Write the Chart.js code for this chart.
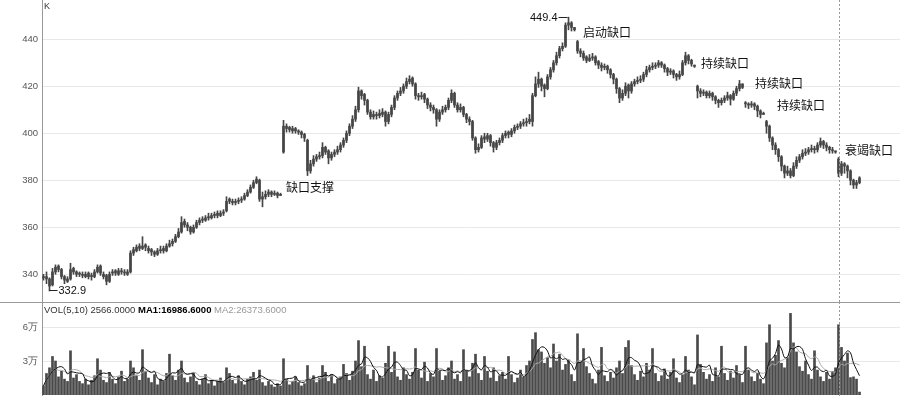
<!DOCTYPE html>
<html>
<head>
<meta charset="utf-8">
<script src="https://cdn.jsdelivr.net/npm/chart.js@4/dist/chart.umd.min.js"></script>
<style>
  body { margin: 0; background: #fff; }
  #wrap { position: relative; width: 900px; height: 397px; overflow: hidden; }
  #priceChart { position: absolute; left: 0; top: 0; }
  #volChart { position: absolute; left: 0; top: 302px; }
  .tag { position: absolute; font-family: "Liberation Sans", Arial, sans-serif; white-space: nowrap; }
</style>
</head>
<body>
<div id="wrap">
  <canvas id="priceChart" width="900" height="302"></canvas>
  <canvas id="volChart" width="900" height="95"></canvas>
  <div class="tag" style="left:44px;top:1px;font-size:9px;color:#333">K</div>
  <div class="tag" style="left:44px;top:304px;font-size:9.5px;color:#333">VOL(5,10) 2566.0000 <b style="color:#000">MA1:16986.6000</b> <span style="color:#999">MA2:26373.6000</span></div>
</div>
<script>
// daily bars (index 0 = first bar on the left)
const opens = [
  338.5, 339, 338, 335.5, 341, 343.5, 342, 339, 337, 338,
  342.5, 341, 340.5, 340, 339, 340.5, 339.5, 339, 341, 343.5,
  340, 339.5, 337, 340.5, 341.5, 340, 341.5, 341, 340, 341,
  349, 350, 352, 351, 352.5, 351, 350.5, 349.5, 348.5, 350,
  351, 350, 352, 353, 354, 356, 358, 362.5, 361, 360,
  358, 360, 362, 363, 363, 364, 364, 365, 366, 365,
  366, 367, 372, 371, 370.5, 371, 371.5, 372, 373.5, 375,
  377, 379, 380, 372, 373, 374, 375, 374, 374.5, 373.5,
  392, 403, 402.5, 401, 402, 401, 400.5, 399.5, 397, 384,
  387, 389, 390, 390.5, 394, 392.5, 389.5, 391, 392, 393,
  395, 397, 400, 403, 406, 410, 418, 416.5, 414, 409,
  407, 408, 407.5, 408, 409, 405, 408, 411, 415, 417,
  418, 420, 422, 423.5, 421, 416, 415.5, 416.5, 414.5, 412,
  411, 410, 406, 409, 410, 411, 414, 417, 412, 410,
  411, 408, 406, 405, 398, 393, 394, 398.5, 397.5, 399,
  396, 394, 396, 397, 399, 400.5, 399.5, 401, 402.5, 403,
  404, 404.5, 405, 405, 416, 421, 423, 420.5, 419, 424,
  427, 430, 433, 436, 437, 446, 447, 445, 439, 435,
  434, 432.5, 431, 432, 432.5, 430.5, 429, 428, 428.5, 427,
  425, 423, 419, 415, 417, 420.5, 418, 421, 422, 422.5,
  423, 425, 427, 428, 428.5, 429, 430, 429, 427.5, 426,
  426.5, 425, 424, 425, 430, 433, 431, 429, 420, 418,
  417, 417.5, 416, 417, 415.5, 414, 413, 414, 415, 416,
  414.5, 417, 419, 421, 413, 412.5, 412, 412.5, 411.5, 409.5,
  408, 405, 403, 398, 395, 393, 390, 386, 383, 384,
  382, 386, 388.5, 390, 391.5, 392, 393, 393.5, 393, 395,
  396.5, 395, 394, 393, 392.5, 389, 383, 387, 386, 384,
  380, 378, 379
];
const highs = [
  340, 341, 338.5, 342.5, 344, 344, 342.5, 339.5, 339, 344.7,
  343, 341.5, 341, 341, 341, 341, 340.5, 342, 344, 344,
  341, 340, 341, 342, 342, 342.5, 342.5, 342, 342, 350,
  351.5, 352.5, 353, 356, 353, 352, 351, 350, 351, 352,
  352, 353, 354.5, 355, 357, 359.5, 364.5, 363.5, 362, 360.5,
  361, 363, 364, 364.5, 365, 366, 366, 366.5, 367, 367,
  367.5, 373, 372.5, 372, 372, 372.5, 373, 374.5, 376, 378,
  380, 381.5, 380.5, 375, 375.5, 376, 375.5, 375.5, 375, 374.5,
  405.5, 404, 403, 403, 402.5, 401.5, 401, 400, 397.5, 388.5,
  390.5, 391, 392, 396, 394.5, 393, 392, 393, 394.5, 396,
  398, 401, 404, 407.5, 411.5, 419.6, 418.5, 417, 414.5, 410,
  409.5, 409, 410, 410.5, 409.5, 409, 412, 416, 418, 419.5,
  421, 423.5, 424.5, 424, 421.5, 417, 417.5, 417, 415, 413,
  412, 410.5, 410, 411.5, 412, 415, 418.5, 417.5, 413, 412.5,
  411.5, 408.5, 407, 405.5, 398.5, 395.5, 399, 400, 400, 399.5,
  396.5, 397, 398, 400, 401, 401, 402, 403.5, 404, 405,
  406, 406.5, 408, 417, 424, 426, 423.5, 421, 425, 428,
  431, 434.5, 437, 438.5, 447, 449.4, 447.5, 445, 439.5, 436,
  435, 433, 433.5, 434, 433, 431, 430, 429.5, 429, 427.5,
  425.5, 423.5, 419.5, 418.5, 421.5, 421, 422, 423, 424, 424.5,
  426, 428.5, 429, 430, 430, 431, 430.5, 429.5, 428, 427.5,
  427, 425.5, 426.5, 431, 434.5, 433.5, 431.5, 429, 420.5, 419,
  418.5, 418, 418, 417.5, 416, 414.5, 415, 416, 417.5, 416.5,
  418, 420, 422.5, 421, 413.5, 413, 413.5, 413, 412, 410,
  409, 405.5, 403.5, 398.5, 396, 393.5, 390.5, 386.5, 386, 385,
  387.5, 390, 391, 393, 393.5, 394, 395, 394.5, 396, 398,
  397, 396, 394.5, 394, 392.5, 389.7, 388, 387.5, 386.5, 384.5,
  380.5, 380, 381.5
];
const lows = [
  337.5, 336, 332.9, 335, 340, 341, 338, 336, 336.5, 337.5,
  340, 339, 339, 338.5, 338.5, 338, 337.5, 338.5, 340.5, 339.5,
  338, 335.5, 336.5, 339.5, 339.5, 339.5, 340, 339.5, 339.5, 340.5,
  348, 349.5, 350, 350.5, 350, 349, 348, 347.5, 348, 349,
  349, 349.5, 351.5, 352, 353.5, 355.5, 357.5, 360, 358.5, 357,
  357.5, 359.5, 361, 362, 362.5, 363, 363.5, 364, 364, 364.5,
  365, 366.5, 370, 369.5, 369.5, 370, 370.5, 371.5, 373, 374.5,
  376.5, 378.5, 371, 368.7, 372, 373, 373, 373.5, 372.5, 373.5,
  391.5, 400.5, 400.5, 400, 400, 399.5, 398, 396.5, 382, 383,
  386, 388, 389, 389.5, 391, 387, 388.5, 390, 391, 392,
  394, 396, 399, 402, 405, 409, 414.5, 412, 408, 406,
  406, 406, 406.5, 407, 403, 404, 407, 410, 414, 416,
  417, 419, 421, 420, 414.5, 414, 414.5, 413, 410.5, 409.5,
  408.5, 403, 405, 408, 409, 410, 413, 411, 409, 409,
  407, 404.5, 403.5, 397, 391.5, 392, 393.5, 396, 396.5, 394.5,
  392, 393, 395, 396, 398, 398, 398.5, 400, 401.5, 402,
  403, 403, 404, 403, 415.5, 419.5, 418, 415.5, 418.5, 423,
  426, 429, 432, 435, 436.5, 444, 443.5, 443.5, 434, 432.5,
  431, 430, 430.5, 431, 429, 427.5, 426.5, 427, 425.5, 423.5,
  421, 417, 413, 414, 416, 415, 417, 420, 421, 421.5,
  422, 424, 426, 427, 427.5, 428, 428, 426, 424.5, 425,
  423.5, 422.5, 423, 424.5, 429, 429.5, 428.5, 428, 415, 415.5,
  416, 415, 415, 414, 412.5, 411, 412, 413, 414, 412,
  414, 416, 418, 419, 411, 410.5, 411, 410, 407, 406.5,
  408, 400, 396.5, 393, 391, 388, 384, 381, 382, 381,
  381.5, 385, 387.5, 389, 390.5, 391, 392, 391.5, 392, 394,
  393.5, 392.5, 391.5, 391.5, 391.5, 381.5, 382, 383, 381, 378,
  376.5, 376.5, 378.5
];
const closes = [
  339, 338, 335, 341, 343, 342, 339, 337.5, 338, 342,
  341, 340, 340, 339.5, 340, 339, 339, 341, 343, 340.5,
  339, 337, 340, 341, 340.5, 341.5, 341, 340.5, 341, 349,
  350.5, 351.5, 351, 352, 351.5, 350, 349.5, 348.5, 350, 350.5,
  350, 352, 353, 354, 356, 358, 362, 361, 360, 358,
  360, 362, 363, 363.5, 364, 364.5, 365, 365.5, 365, 366,
  366.5, 371, 371, 370.5, 371, 371.5, 372, 373.5, 375, 377,
  379, 380.5, 372, 373, 374, 375, 374, 374.5, 373.5, 374,
  403, 402, 401.5, 402, 401, 400.5, 399.5, 398, 384, 387,
  389, 390, 390.5, 394, 392, 389.5, 391, 392, 393, 395,
  397, 400, 403, 406, 410, 418, 416, 414, 409, 407,
  408, 407.5, 408.5, 409, 405, 408, 411, 415, 417, 418,
  420, 422, 423, 421, 416, 415.5, 416, 414.5, 412, 411,
  410, 406, 409, 410, 411, 414, 417, 412, 410, 411,
  408, 406, 405, 398, 393, 394, 398, 397.5, 399, 396,
  394, 396, 397, 399, 400, 399.5, 401, 402.5, 403, 404,
  404.5, 405, 406, 416, 421, 423, 420, 419, 424, 427,
  430, 433, 436, 437, 446, 447, 445, 444, 435, 434,
  432, 431, 432, 432.5, 430, 429, 428, 428.5, 427, 425,
  423, 419, 415, 417, 420, 418, 421, 422, 422.5, 423,
  425, 427, 428, 428.5, 429, 430, 429, 427.5, 426, 426.5,
  425, 424, 425, 430, 433, 431, 429.5, 428.5, 418, 417,
  417.5, 416, 417, 415.5, 414, 413, 414, 415, 416, 414.5,
  417, 419, 421, 419.5, 412.5, 412, 412.5, 411.5, 409.5, 408,
  408.5, 403, 398, 395, 393, 390, 386, 383, 384, 382,
  386, 388.5, 390, 391.5, 392, 393, 393.5, 393, 395, 396.5,
  395, 394, 393, 392.5, 392, 383, 387, 386, 384, 380,
  378, 379, 381
];
const volumes = [
  8000, 19000, 24000, 34000, 30000, 16000, 21000, 14000, 12000, 39000,
  15000, 18000, 12000, 10000, 14000, 9000, 13000, 17000, 32000, 22000,
  13000, 11000, 20000, 14000, 10000, 16000, 21000, 12000, 14000, 30000,
  24000, 17000, 13000, 40000, 21000, 15000, 11000, 18000, 9000, 14000,
  12000, 19000, 36000, 17000, 13000, 22000, 30000, 15000, 11000, 16000,
  20000, 12000, 9000, 14000, 18000, 10000, 13000, 8000, 12000, 15000,
  11000, 24000, 19000, 13000, 10000, 17000, 12000, 9000, 14000, 16000,
  20000, 13000, 22000, 11000, 8000, 12000, 9000, 7000, 10000, 8000,
  32000, 14000, 9000, 12000, 16000, 11000, 8000, 10000, 26000, 13000,
  17000, 11000, 15000, 26000, 20000, 12000, 18000, 10000, 14000, 16000,
  27000, 19000, 13000, 21000, 30000, 48000, 25000, 43000, 18000, 14000,
  22000, 12000, 17000, 15000, 28000, 43000, 20000, 38000, 16000, 13000,
  24000, 18000, 14000, 20000, 41000, 22000, 15000, 29000, 12000, 19000,
  16000, 41000, 21000, 13000, 17000, 24000, 30000, 14000, 18000, 12000,
  40000, 22000, 16000, 28000, 36000, 19000, 13000, 34000, 21000, 15000,
  24000, 12000, 17000, 20000, 14000, 34000, 18000, 11000, 15000, 22000,
  16000, 26000, 30000, 49000, 55000, 40000, 38000, 28000, 33000, 24000,
  45000, 30000, 36000, 22000, 27000, 31000, 18000, 12000, 54000, 29000,
  41000, 25000, 19000, 14000, 10000, 22000, 42000, 17000, 12000, 20000,
  15000, 24000, 30000, 19000, 42000, 48000, 26000, 18000, 13000, 21000,
  16000, 28000, 22000, 41000, 19000, 12000, 17000, 23000, 14000, 20000,
  32000, 15000, 11000, 18000, 34000, 22000, 16000, 9000, 53000, 27000,
  20000, 14000, 18000, 12000, 24000, 16000, 43000, 19000, 13000, 21000,
  15000, 26000, 18000, 11000, 43000, 22000, 16000, 12000, 19000, 14000,
  10000, 46000, 62000, 30000, 35000, 48000, 28000, 24000, 33000, 72000,
  46000, 38000, 25000, 21000, 30000, 18000, 14000, 39000, 22000, 16000,
  12000, 20000, 14000, 20803, 24000, 62000, 42000, 30000, 37000, 15367,
  16000, 14000, 2566
];
const priceTicks = [340, 360, 380, 400, 420, 440];
const volTicks = [30000, 60000];
// 286 slots on the time axis; the last ones are still empty
const slots = Array.from({ length: 286 }, (_, i) => i + 1);
const cursorIndex = 265;
const gapNotes = [
  { text: '缺口支撑', at: 80.8, price: 377 },
  { text: '启动缺口', at: 179.8, price: 443.1 },
  { text: '持续缺口', at: 219.2, price: 429.5 },
  { text: '持续缺口', at: 237.2, price: 421 },
  { text: '持续缺口', at: 244.5, price: 412 },
  { text: '衰竭缺口', at: 267.2, price: 392.8 }
];
const peakIndex = 175, troughIndex = 2;

function movingAvg(arr, n) {
  return arr.map((v, i) => {
    const part = arr.slice(Math.max(0, i - n + 1), i + 1);
    return part.reduce((a, b) => a + b, 0) / part.length;
  });
}

const tickFont = { family: '"Liberation Sans", Arial, sans-serif', size: 9.5 };
const candleColor = '#454545';

function fixedAxis(width) {
  return scale => {
    scale.width = width;
    scale.paddingTop = 0;
    scale.paddingBottom = 0;
  };
}

const cursorLine = {
  id: 'cursorLine',
  afterDatasetsDraw(chart) {
    const { ctx, scales: { x } } = chart;
    const px = Math.round(x.getPixelForValue(cursorIndex)) + 0.5;
    ctx.save();
    ctx.strokeStyle = '#999';
    ctx.setLineDash([2, 2]);
    ctx.beginPath();
    ctx.moveTo(px, 0);
    ctx.lineTo(px, chart.height);
    ctx.stroke();
    ctx.restore();
  }
};

const notes = {
  id: 'notes',
  afterDatasetsDraw(chart) {
    const { ctx, scales: { x, y } } = chart;
    ctx.save();
    ctx.fillStyle = '#111';
    ctx.textBaseline = 'middle';
    ctx.font = '12px "Noto Sans CJK SC", sans-serif';
    ctx.textAlign = 'left';
    gapNotes.forEach(n => ctx.fillText(n.text, x.getPixelForValue(n.at), y.getPixelForValue(n.price)));

    ctx.font = '11px "Liberation Sans", Arial, sans-serif';
    ctx.strokeStyle = '#222';
    ctx.lineWidth = 1;
    // high mark
    const hx = x.getPixelForValue(peakIndex), hy = Math.round(y.getPixelForValue(highs[peakIndex])) + 0.5;
    ctx.beginPath(); ctx.moveTo(hx - 10, hy); ctx.lineTo(hx - 1, hy); ctx.stroke();
    ctx.textAlign = 'right';
    ctx.fillText(highs[peakIndex].toFixed(1), hx - 11, hy);
    // low mark
    const lx = x.getPixelForValue(troughIndex), ly = Math.round(y.getPixelForValue(lows[troughIndex])) - 0.5;
    ctx.beginPath(); ctx.moveTo(lx, ly); ctx.lineTo(lx + 8, ly); ctx.stroke();
    ctx.textAlign = 'left';
    ctx.fillText(lows[troughIndex].toFixed(1), lx + 9, ly);
    ctx.restore();
  }
};

const separator = {
  id: 'separator',
  afterDraw(chart) {
    const { ctx } = chart;
    ctx.save();
    ctx.strokeStyle = '#999';
    ctx.beginPath();
    ctx.moveTo(0, 0.5);
    ctx.lineTo(chart.width, 0.5);
    ctx.stroke();
    ctx.restore();
  }
};

new Chart(document.getElementById('priceChart'), {
  type: 'bar',
  data: {
    labels: slots,
    datasets: [
      {
        label: 'range',
        data: lows.map((l, i) => [l, highs[i]]),
        backgroundColor: candleColor,
        barThickness: 1,
        grouped: false
      },
      {
        label: 'body',
        data: opens.map((o, i) => [o, closes[i]]),
        backgroundColor: candleColor,
        barThickness: 2,
        minBarLength: 1,
        grouped: false
      }
    ]
  },
  options: {
    responsive: false,
    animation: false,
    layout: { padding: 0 },
    plugins: { legend: { display: false }, tooltip: { enabled: false } },
    scales: {
      x: { display: false },
      y: {
        min: 328.2,
        max: 456.7,
        afterBuildTicks: s => { s.ticks = priceTicks.map(v => ({ value: v })); },
        afterFit: fixedAxis(42),
        ticks: { font: tickFont, color: '#555', padding: 4 },
        grid: { color: '#e8e8e8', drawTicks: false },
        border: { color: '#999' }
      }
    }
  },
  plugins: [notes, cursorLine]
});

new Chart(document.getElementById('volChart'), {
  data: {
    labels: slots,
    datasets: [
      {
        type: 'line',
        label: 'MA1',
        data: movingAvg(volumes, 5),
        borderColor: '#111',
        borderWidth: 1,
        pointRadius: 0,
        tension: 0.3
      },
      {
        type: 'line',
        label: 'MA2',
        data: movingAvg(volumes, 10),
        borderColor: '#aaa',
        borderWidth: 1,
        pointRadius: 0,
        tension: 0.3
      },
      {
        type: 'bar',
        label: 'VOL',
        data: volumes,
        backgroundColor: '#4a4a4a',
        barThickness: 2
      }
    ]
  },
  options: {
    responsive: false,
    animation: false,
    layout: { padding: { bottom: 2 } },
    plugins: { legend: { display: false }, tooltip: { enabled: false } },
    scales: {
      x: { display: false },
      y: {
        min: 0,
        max: 82059,
        afterBuildTicks: s => { s.ticks = volTicks.map(v => ({ value: v })); },
        afterFit: fixedAxis(42),
        ticks: { font: tickFont, color: '#555', padding: 4, callback: v => (v / 10000) + '万' },
        grid: { color: '#e8e8e8', drawTicks: false },
        border: { color: '#999' }
      }
    }
  },
  plugins: [cursorLine, separator]
});
</script>
</body>
</html>
